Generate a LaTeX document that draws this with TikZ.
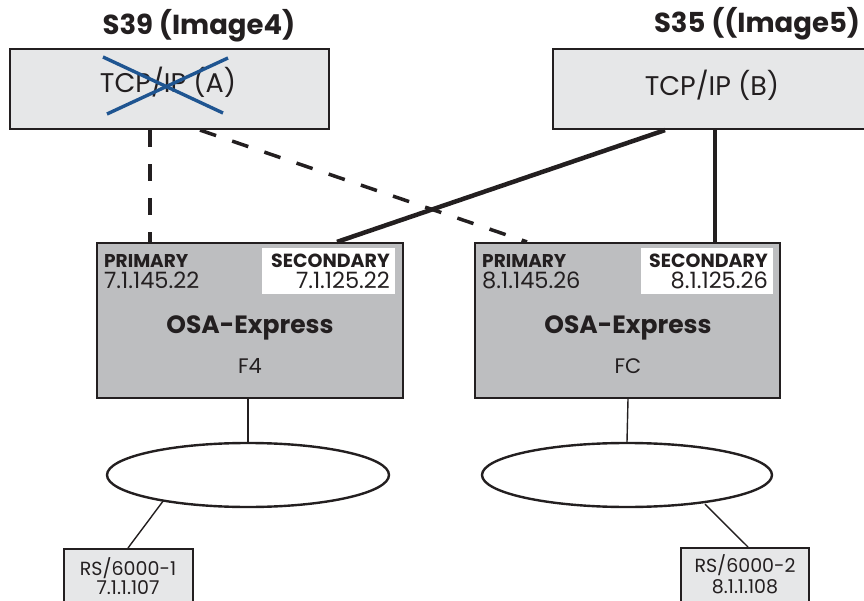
\documentclass[tikz,border=0pt]{standalone}
\usepackage{fontspec}
\setmainfont{Poppins}
\usetikzlibrary{calc,shapes.geometric}
\definecolor{lightbox}{HTML}{E6E7E8}
\definecolor{osagray}{HTML}{BDBEC0}
\definecolor{xblue}{HTML}{1F5591}
\definecolor{txt}{HTML}{231F20}
\tikzset{
  hostbox/.style={draw=txt, line width=2.2pt, fill=lightbox, inner sep=0pt},
  osabox/.style={draw=txt, line width=2.2pt, fill=osagray, inner sep=0pt},
  whitebox/.style={fill=white, inner sep=0pt},
  rsbox/.style={draw=txt, line width=2pt, fill=lightbox, inner sep=0pt},
  lan/.style={draw=txt, line width=2.4pt, ellipse, inner sep=0pt},
  dashlink/.style={draw=txt, line width=3.5pt, dash pattern=on 17pt off 17pt},
  thicklink/.style={draw=txt, line width=4.5pt},
  thinlink/.style={draw=txt, line width=1.4pt},
  lbl/.style={text=txt, inner sep=0pt},
}
\begin{document}
\begin{tikzpicture}[x=1pt,y=-1pt]
\useasboundingbox (0,0) rectangle (864,601);
\clip (0,0) rectangle (864,601);
% titles
\node[lbl, font=\fontsize{27.5}{32}\selectfont\bfseries, anchor=base] (t1) at (199,35) {S39 (Image4)};
\node[lbl, font=\fontsize{27.5}{32}\selectfont\bfseries, anchor=base] (t2) at (757,33) {S35 ((Image5)};
% host boxes
\node[hostbox, minimum width=319pt, minimum height=80pt] (A) at (169.5,89) {};
\node[hostbox, minimum width=319pt, minimum height=80pt] (B) at (712.5,89) {};
\node[lbl, font=\fontsize{27}{32}\selectfont, anchor=base] (Atxt) at (168,93) {TCP/IP (A)};
\node[lbl, font=\fontsize{27}{32}\selectfont, anchor=base] (Btxt) at (712,96) {TCP/IP (B)};
% blue cross
\coordinate (x1) at (103,57); \coordinate (x2) at (223,113);
\coordinate (x3) at (228,58); \coordinate (x4) at (107,114);
\draw[xblue, line width=3.4pt] (x1) -- (x2);
\draw[xblue, line width=3.4pt] (x3) -- (x4);
% OSA boxes
\node[osabox, minimum width=306pt, minimum height=155pt] (O1) at (250,320.5) {};
\node[osabox, minimum width=305pt, minimum height=155pt] (O2) at (627.5,320.5) {};
\node[whitebox, minimum width=133pt, minimum height=46pt] (W1) at (328.5,271) {};
\node[whitebox, minimum width=132pt, minimum height=46pt] (W2) at (707,271) {};
% OSA texts
\node[lbl, font=\fontsize{18.5}{22}\selectfont\bfseries, anchor=base west] (p1) at (104,268) {PRIMARY};
\node[lbl, font=\fontsize{22.5}{26}\selectfont, anchor=base west] (p1ip) at (104,289) {7.1.145.22};
\node[lbl, font=\fontsize{19}{22}\selectfont\bfseries, anchor=base east] (s1) at (390,268) {SECONDARY};
\node[lbl, font=\fontsize{22.5}{26}\selectfont, anchor=base east] (s1ip) at (390,289) {7.1.125.22};
\node[lbl, font=\fontsize{25}{30}\selectfont\bfseries, anchor=base] (osa1) at (250,334) {OSA-Express};
\node[lbl, font=\fontsize{21}{24}\selectfont, anchor=base] (f4) at (250,373) {F4};
\node[lbl, font=\fontsize{18.5}{22}\selectfont\bfseries, anchor=base west] (p2) at (482,268) {PRIMARY};
\node[lbl, font=\fontsize{22.5}{26}\selectfont, anchor=base west] (p2ip) at (482,289) {8.1.145.26};
\node[lbl, font=\fontsize{19}{22}\selectfont\bfseries, anchor=base east] (s2) at (768,268) {SECONDARY};
\node[lbl, font=\fontsize{22.5}{26}\selectfont, anchor=base east] (s2ip) at (768,289) {8.1.125.26};
\node[lbl, font=\fontsize{25}{30}\selectfont\bfseries, anchor=base] (osa2) at (628,334) {OSA-Express};
\node[lbl, font=\fontsize{21}{24}\selectfont, anchor=base] (fc) at (628,373) {FC};
% LAN ellipses
\node[lan, minimum width=282pt, minimum height=64pt] (L1) at (248,475) {};
\node[lan, minimum width=290pt, minimum height=64pt] (L2) at (627,475) {};
% RS boxes
\node[rsbox, minimum width=129pt, minimum height=70pt] (R1) at (128.5,584) {};
\node[rsbox, minimum width=128pt, minimum height=70pt] (R2) at (745,583) {};
\node[lbl, font=\fontsize{19}{22}\selectfont, anchor=base] (r1a) at (128,575) {RS/6000-1};
\node[lbl, font=\fontsize{19}{22}\selectfont, anchor=base] (r1b) at (128,594) {7.1.1.107};
\node[lbl, font=\fontsize{19}{22}\selectfont, anchor=base] (r2a) at (745,572) {RS/6000-2};
\node[lbl, font=\fontsize{19}{22}\selectfont, anchor=base] (r2b) at (745,593) {8.1.1.108};
% connectors
\draw[dashlink] (A.south -| 150,0) -- (O1.north -| 150,0);
\draw[dashlink] (A.south -| 200,0) -- (O2.north -| 527,0);
\draw[thicklink] (B.south -| 665,0) -- (O1.north -| 337,0);
\draw[thicklink] (B.south -| 715,0) -- (O2.north -| 715,0);
\draw[thinlink] (O1.south -| 248,0) -- (L1.north);
\draw[thinlink] (O2.south -| 628,0) -- (L2.north);
\draw[thinlink] (L1.south -| 163,0) ++(0,-7) -- (R1.north -| 128,0);
\draw[thinlink] (L2.south -| 705,0) ++(0,-4) -- (R2.north -| 748,0);
\end{tikzpicture}
\end{document}
